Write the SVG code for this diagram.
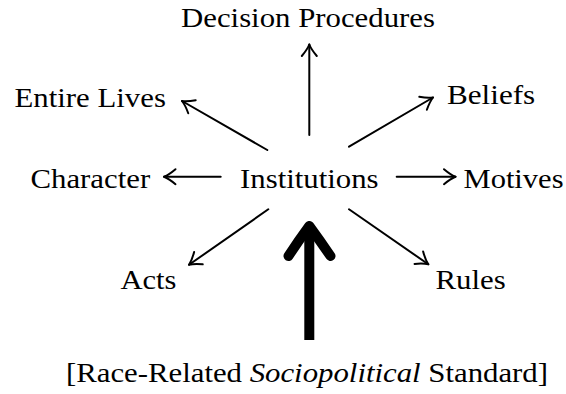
<svg xmlns="http://www.w3.org/2000/svg" width="566" height="394" viewBox="0 0 566 394">
<style>
  .lbl { font-family: "Liberation Serif", "Times New Roman", serif; font-size: 28px; fill: #000; }
  .conn { stroke: #000; stroke-width: 2; fill: none; stroke-linecap: round; }
  .big { stroke: #000; fill: none; stroke-width: 10; stroke-linejoin: round; stroke-linecap: round; }
</style>
<defs>
  <marker id="head" markerUnits="userSpaceOnUse" markerWidth="24" markerHeight="24" viewBox="-14 -12 16 24" refX="0" refY="0" orient="auto" overflow="visible">
    <path d="M-11.5,-7.5 Q-5,-2 0,0 Q-5,2 -11.5,7.5" fill="none" stroke="#000" stroke-width="2" stroke-linecap="round" stroke-linejoin="round"/>
  </marker>
</defs>
<rect width="566" height="394" fill="#fff"/>
<g id="connectors">
  <line class="conn" x1="309.3" y1="135" x2="309.3" y2="44.5" marker-end="url(#head)"/>
  <line class="conn" x1="267.3" y1="150" x2="182" y2="101" marker-end="url(#head)"/>
  <line class="conn" x1="349" y1="146.7" x2="433" y2="97.5" marker-end="url(#head)"/>
  <line class="conn" x1="220.7" y1="176.7" x2="164" y2="176.7" marker-end="url(#head)"/>
  <line class="conn" x1="396.7" y1="176.7" x2="455.5" y2="176.7" marker-end="url(#head)"/>
  <line class="conn" x1="268.3" y1="209.3" x2="189" y2="264.8" marker-end="url(#head)"/>
  <line class="conn" x1="349" y1="209.3" x2="428.3" y2="264.3" marker-end="url(#head)"/>
  <g id="big-arrow">
    <line x1="309.3" y1="340" x2="309.3" y2="228" stroke="#000" stroke-width="10"/>
    <path class="big" d="M288.5,256 Q299,240 309.3,226 Q319.5,240 330.5,256"/>
  </g>
</g>
<g id="node-decision"><text class="lbl" x="181" y="26.7" textLength="254" lengthAdjust="spacingAndGlyphs">Decision Procedures</text></g>
<g id="node-entire-lives"><text class="lbl" x="14.5" y="106.7" textLength="151.4" lengthAdjust="spacingAndGlyphs">Entire Lives</text></g>
<g id="node-beliefs"><text class="lbl" x="447" y="104.3" textLength="88.2" lengthAdjust="spacingAndGlyphs">Beliefs</text></g>
<g id="node-character"><text class="lbl" x="30.5" y="187.5" textLength="119.7" lengthAdjust="spacingAndGlyphs">Character</text></g>
<g id="node-institutions"><text class="lbl" x="240" y="187.5" textLength="138.6" lengthAdjust="spacingAndGlyphs">Institutions</text></g>
<g id="node-motives"><text class="lbl" x="463.5" y="187.5" textLength="100" lengthAdjust="spacingAndGlyphs">Motives</text></g>
<g id="node-acts"><text class="lbl" x="120.5" y="289.3" textLength="56" lengthAdjust="spacingAndGlyphs">Acts</text></g>
<g id="node-rules"><text class="lbl" x="435.5" y="289.3" textLength="70.2" lengthAdjust="spacingAndGlyphs">Rules</text></g>
<g id="node-standard"><text class="lbl" x="66" y="382" textLength="482" lengthAdjust="spacingAndGlyphs">[Race-Related <tspan font-style="italic">Sociopolitical</tspan> Standard]</text></g>
</svg>
